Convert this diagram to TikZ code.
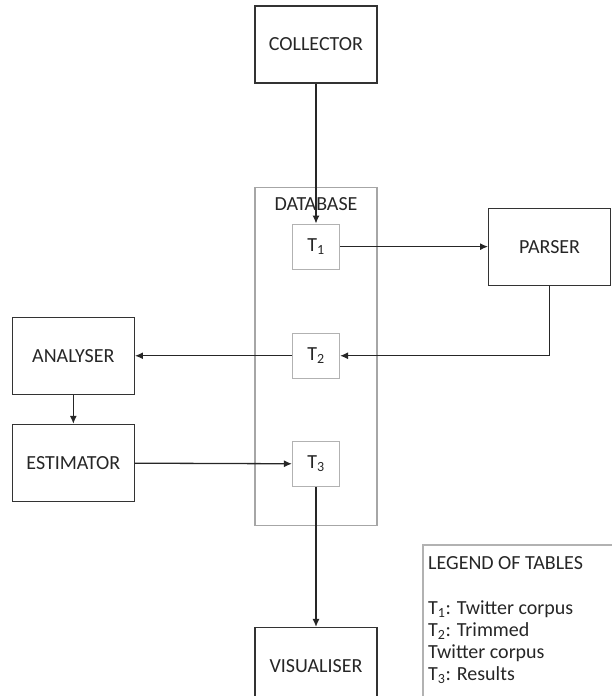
\documentclass[tikz,border=0pt]{standalone}
\usepackage{fontspec}
\setmainfont{Carlito}
\usetikzlibrary{positioning,arrows.meta}

\tikzset{
  box/.style={draw=black!80,line width=1.2pt,minimum width=122pt,minimum height=77pt,
    font=\fontsize{20}{22}\selectfont,text=black!85},
  tbl/.style={draw=black!30,line width=1.1pt,minimum width=47pt,minimum height=45pt,
    font=\fontsize{20}{22}\selectfont,text=black!85},
  dbbox/.style={draw=black!35,line width=1.1pt,minimum width=122pt,minimum height=338pt},
  arr/.style={-{Latex[length=8pt,width=7pt]},line width=1.3pt,black!85},
}

\begin{document}
\begin{tikzpicture}[x=1pt,y=1pt]
      \useasboundingbox (0,0) rectangle (611,-696);

      \node [box] (col) at (316,-44.5) {COLLECTOR};
      \node [tbl,below=140pt of col] (t1) {T\textsubscript{1}};
      \node [tbl,below=63pt of t1] (t2) {T\textsubscript{2}};
      \node [tbl,below=62pt of t2] (t3) {T\textsubscript{3}};
      \node [dbbox] (db) at ([yshift=-1pt]t2) {};
      \node [below=8pt of db.north,inner sep=2pt,font=\fontsize{20}{22}\selectfont,text=black!85] (dbname) {DATABASE};
      \node [box,right=148pt of t1] (parser) {PARSER};
      \node [box,left=157pt of t2] (analyser) {ANALYSER};
      \node [box,below=29pt of analyser] (estimator) {ESTIMATOR};
      \node [box,below=140pt of t3] (vis) {VISUALISER};

      \draw[arr] (col) -- (t1);
      \draw[arr] (t1) -- (parser);
      \draw[arr] (parser.south) |- (t2.east);
      \draw[arr] (t2) -- (analyser);
      \draw[arr] (analyser) -- (estimator);
      \draw[arr] (estimator) -- (t3);
      \draw[arr] (t3) -- (vis);

      % legend
      \draw[draw=black!30,line width=1.1pt] (423,-545) rectangle (640,-720);
      \node [anchor=north west,align=left,inner sep=0pt,text=black!85,
        font=\fontsize{20}{22}\selectfont] (legend) at (428,-556)
        {LEGEND OF TABLES\\[23pt]
         T\textsubscript{1}: Twitter corpus\\
         T\textsubscript{2}: Trimmed\\
         Twitter corpus\\
         T\textsubscript{3}: Results};
\end{tikzpicture}
\end{document}
